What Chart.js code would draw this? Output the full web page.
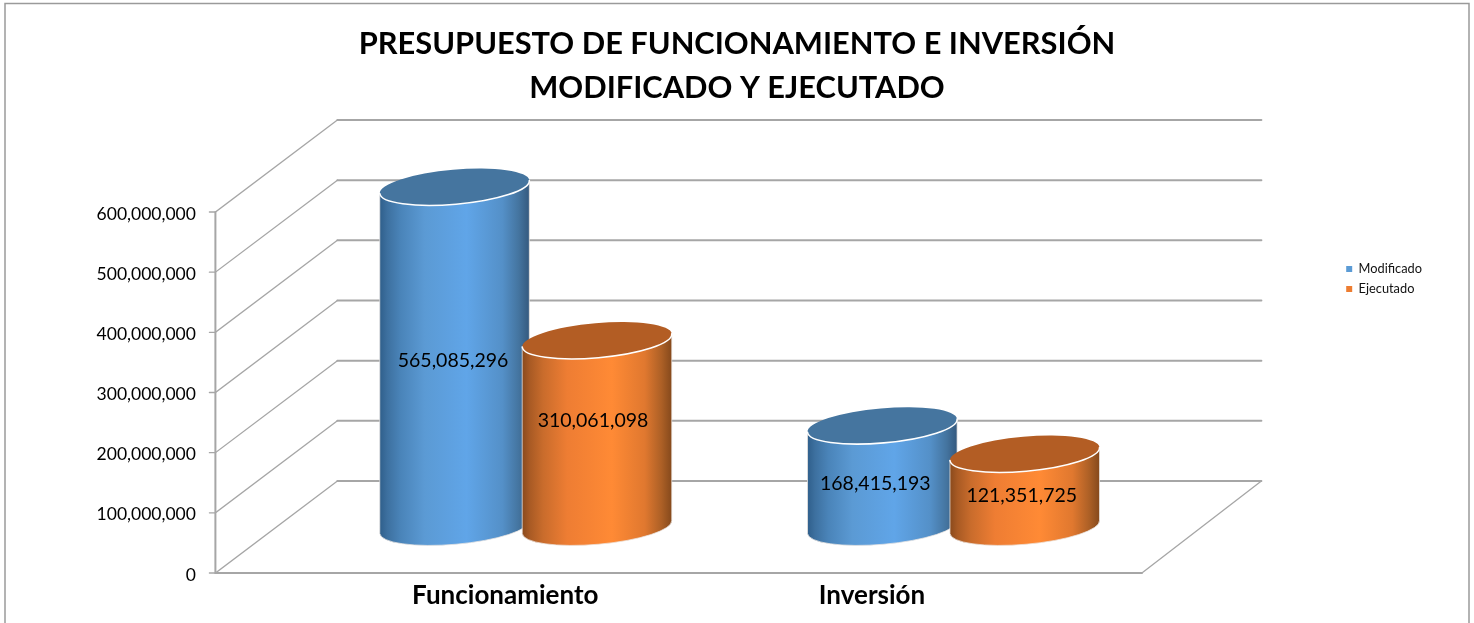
<!DOCTYPE html>
<html>
<head>
<meta charset="utf-8">
<style>html,body{margin:0;padding:0;background:#fff}canvas{display:block}</style>
<script src="https://cdn.jsdelivr.net/npm/chart.js@4"></script>
</head>
<body>
<canvas id="c" width="1474" height="623"></canvas>
<script>
const categories = ['Funcionamiento', 'Inversión'];
const modificado = [565085296, 168415193];
const ejecutado = [310061098, 121351725];
const seriesNames = ['Modificado', 'Ejecutado'];
const titleLines = ['PRESUPUESTO DE FUNCIONAMIENTO E INVERSIÓN', 'MODIFICADO Y EJECUTADO'];

const FONT = 'Lato, "Open Sans", sans-serif';
const DEPTH_X = 122, DEPTH_Y = 92;      // full depth of the 3D floor
const CAGE_INSET = 35.5;                // floor reaches past the category band on both sides
const BACK_RIGHT_TRIM = 2.5;
const Y_LABEL_GAP = 55, Y_LABEL_DROP = 2;
const TILT = 5 * Math.PI / 180, MINOR = 17.3;
const GRID = '#a6a6a6';
const bodyStops = [
  [['0', '#2f5f8b'], ['0.05', '#3d709f'], ['0.14', '#4a84b9'], ['0.30', '#5b9ad4'], ['0.58', '#60a5e8'], ['0.82', '#5490c8'], ['0.93', '#44749f'], ['1', '#34597e']],
  [['0', '#8a4a1c'], ['0.05', '#a85a24'], ['0.14', '#c96c2c'], ['0.30', '#ee7d33'], ['0.60', '#ff8a35'], ['0.82', '#e0782f'], ['0.93', '#ad6026'], ['1', '#85491c']]
];
const capFill = ['#45759f', '#b35d24'];
const valueNudge = [[[-1.5, 4], [-7, 7]], [[-4, -13.5], [-3, 5]]];
const tickNudge = [40.5, -20.5];

const cylinders = {
  id: 'cylinders',
  afterLayout(chart) {
    chart.titleBlock.left = 0;
    chart.titleBlock.right = chart.width;
  },
  beforeDraw(chart) {
    const { ctx } = chart;
    ctx.save();
    ctx.fillStyle = '#fff';
    ctx.fillRect(0, 0, chart.width, chart.height);
    ctx.strokeStyle = '#9a9a9a';
    ctx.lineWidth = 1.5;
    ctx.beginPath();
    ctx.moveTo(5, chart.height + 2);
    ctx.lineTo(5, 3.5);
    ctx.lineTo(1469, 3.5);
    ctx.lineTo(1469, chart.height + 2);
    ctx.stroke();
    ctx.restore();
    const xs = chart.scales.x, ys = chart.scales.y;
    xs.getLabelItems().forEach((item, i) => {
      item.options.translation[0] = xs.getPixelForTick(i) + tickNudge[i];
    });
    ys.getLabelItems().forEach((item, i) => {
      item.options.translation[0] = ys.right - Y_LABEL_GAP;
      item.options.translation[1] = ys.getPixelForTick(i) + Y_LABEL_DROP;
    });
  },
  beforeDatasetsDraw(chart) {
    const { ctx, chartArea: a, scales: { y } } = chart;
    const L = a.left - CAGE_INSET, R = a.right + CAGE_INSET;
    ctx.save();
    ctx.lineCap = 'round';
    ctx.strokeStyle = GRID;
    y.ticks.forEach(t => {
      const py = y.getPixelForValue(t.value);
      ctx.lineWidth = 1.3;
      ctx.beginPath();
      ctx.moveTo(L - 6, py);
      ctx.lineTo(L, py);
      ctx.lineTo(L + DEPTH_X, py - DEPTH_Y);
      ctx.stroke();
      ctx.lineWidth = 2;
      ctx.beginPath();
      ctx.moveTo(L + DEPTH_X, py - DEPTH_Y);
      ctx.lineTo(R + DEPTH_X - BACK_RIGHT_TRIM, py - DEPTH_Y);
      ctx.stroke();
    });
    const y0 = y.getPixelForValue(0), yTop = y.getPixelForValue(y.max);
    ctx.lineWidth = 2;
    ctx.beginPath();
    ctx.moveTo(L, yTop);
    ctx.lineTo(L, y0);
    ctx.lineTo(R, y0);
    ctx.stroke();
    ctx.lineWidth = 1.3;
    ctx.beginPath();
    ctx.moveTo(R, y0);
    ctx.lineTo(R + DEPTH_X - BACK_RIGHT_TRIM, y0 - DEPTH_Y);
    ctx.stroke();

    chart.data.datasets.forEach((ds, di) => {
      chart.getDatasetMeta(di).data.forEach(bar => {
        const { x, y: top, base, width } = bar.getProps(['x', 'y', 'base', 'width'], true);
        const cx = x + DEPTH_X / 2, topY = top - DEPTH_Y / 2, baseY = base - DEPTH_Y / 2;
        const major = (width / 2) / Math.cos(TILT);
        const hx = major * Math.cos(TILT), hy = major * Math.sin(TILT);
        const grad = ctx.createLinearGradient(cx - hx, 0, cx + hx, 0);
        bodyStops[di].forEach(s => grad.addColorStop(+s[0], s[1]));
        ctx.beginPath();
        ctx.moveTo(cx - hx, topY + hy);
        ctx.lineTo(cx - hx, baseY + hy);
        ctx.ellipse(cx, baseY, major, MINOR, -TILT, Math.PI, 0, true);
        ctx.lineTo(cx + hx, topY - hy);
        ctx.closePath();
        ctx.fillStyle = grad;
        ctx.fill();
        ctx.strokeStyle = 'rgba(235,230,225,0.75)';
        ctx.lineWidth = 1;
        ctx.stroke();
        ctx.beginPath();
        ctx.ellipse(cx, topY, major, MINOR, -TILT, 0, Math.PI * 2);
        ctx.fillStyle = capFill[di];
        ctx.fill();
        ctx.beginPath();
        ctx.ellipse(cx, topY, major, MINOR, -TILT, 0, Math.PI);
        ctx.strokeStyle = '#fff';
        ctx.lineWidth = 1.6;
        ctx.stroke();
      });
    });

    ctx.fillStyle = '#000';
    ctx.font = '19.5px ' + FONT;
    ctx.textAlign = 'center';
    ctx.textBaseline = 'middle';
    chart.data.datasets.forEach((ds, di) => {
      chart.getDatasetMeta(di).data.forEach((bar, i) => {
        const { x, y: top, base } = bar.getProps(['x', 'y', 'base'], true);
        const n = valueNudge[di][i];
        ctx.fillText(ds.data[i].toLocaleString('en-US'),
          x + DEPTH_X / 2 + n[0], (top + base) / 2 - DEPTH_Y / 2 + n[1]);
      });
    });
    ctx.restore();
  },
  beforeDatasetDraw() { return false; }
};

new Chart(document.getElementById('c'), {
  type: 'bar',
  data: {
    labels: categories,
    datasets: [
      { label: seriesNames[0], data: modificado, backgroundColor: '#5b9bd5', categoryPercentage: 0.666, barPercentage: 1.05 },
      { label: seriesNames[1], data: ejecutado, backgroundColor: '#ed7d31', categoryPercentage: 0.666, barPercentage: 1.05 }
    ]
  },
  options: {
    responsive: false,
    animation: false,
    devicePixelRatio: 1,
    layout: { padding: { left: 0, right: 47, top: 0, bottom: 0 } },
    plugins: {
      title: {
        display: true,
        text: titleLines,
        color: '#000',
        font: { family: FONT, size: 30.8, weight: 'bold', lineHeight: 44 / 30.8 },
        padding: { top: 22, bottom: 102 }
      },
      legend: {
        position: 'right',
        align: 'start',
        maxWidth: 88,
        title: { display: true, text: '', font: { size: 12 }, padding: { top: 0, bottom: 241 } },
        labels: {
          font: { family: FONT, size: 12.8 },
          color: '#111',
          boxWidth: 6,
          boxHeight: 6,
          padding: 7.2
        }
      },
      tooltip: { enabled: false }
    },
    scales: {
      x: {
        grid: { display: false, drawTicks: false },
        border: { display: false },
        ticks: { color: '#000', font: { family: FONT, size: 26, weight: 'bold' }, padding: 7, maxRotation: 0 },
        afterFit(s) { s.height = 50; }
      },
      y: {
        min: 0,
        max: 600000000,
        grid: { display: false, drawTicks: false },
        border: { display: false },
        ticks: {
          stepSize: 100000000,
          color: '#000',
          padding: 2,
          font: { family: FONT, size: 17.5 },
          callback: v => v.toLocaleString('en-US')
        },
        afterFit(s) { s.width = 250.9; }
      },
      legendGap: {
        type: 'linear',
        position: 'right',
        grid: { display: false, drawTicks: false },
        border: { display: false },
        ticks: { display: false },
        afterFit(s) { s.width = 232.6; }
      }
    }
  },
  plugins: [cylinders]
});
</script>
</body>
</html>
